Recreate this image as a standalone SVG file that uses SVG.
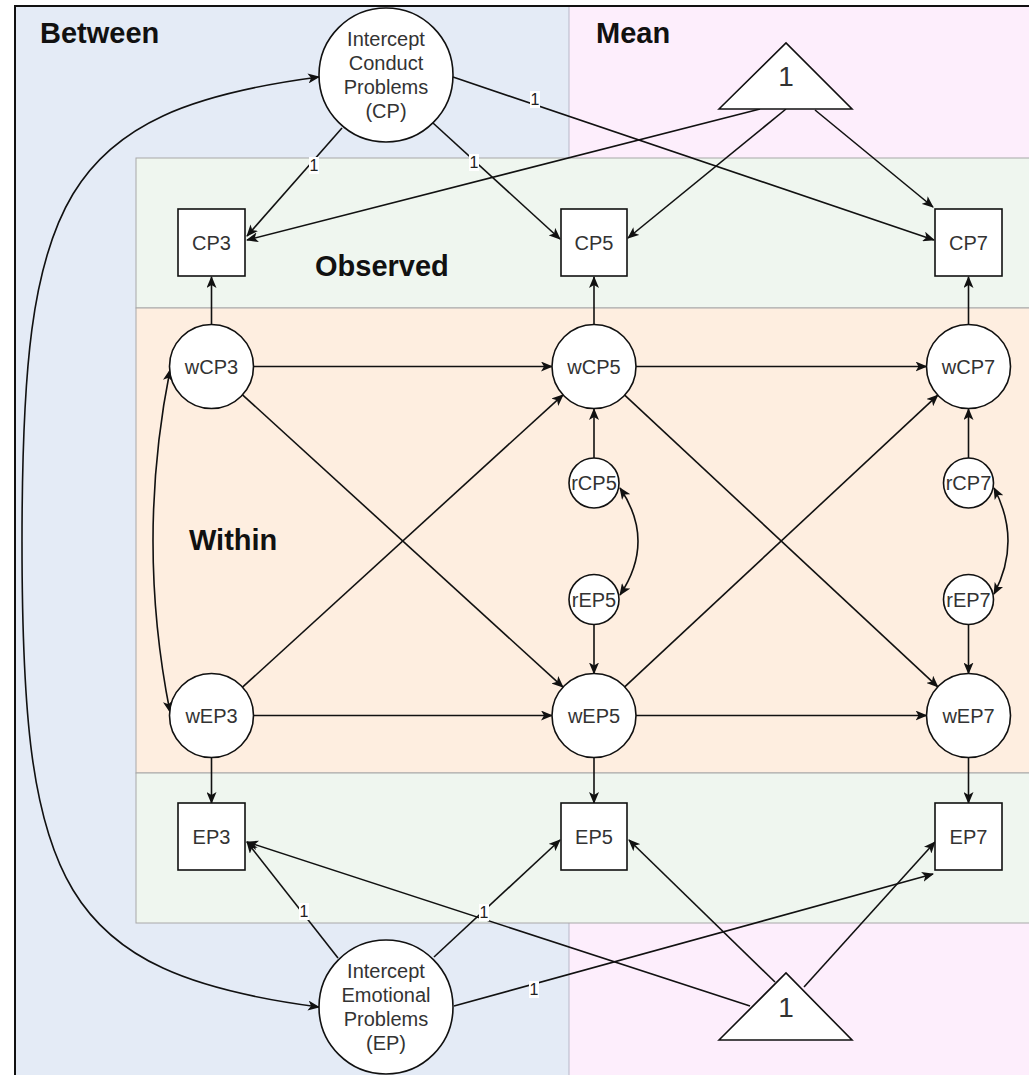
<svg xmlns="http://www.w3.org/2000/svg" width="1029" height="1075" viewBox="0 0 1029 1075">
  <style>
    .hdr { font-family: "Liberation Sans", Arial, sans-serif; font-weight: bold; font-size: 29px; fill: #111; }
    .lbl { font-family: "Liberation Sans", Arial, sans-serif; font-size: 20px; fill: #333; text-anchor: middle; }
    .one { font-family: "Liberation Sans", Arial, sans-serif; font-size: 28px; fill: #333; text-anchor: middle; }
    .elbl { font-family: "Liberation Sans", Arial, sans-serif; font-size: 16px; fill: #222; text-anchor: middle; }
    .node { fill: #fff; stroke: #111; stroke-width: 1.6; }
    .edge { fill: none; stroke: #111; stroke-width: 1.6; marker-end: url(#arrow); }
    .both { fill: none; stroke: #111; stroke-width: 1.6; marker-start: url(#arrow); marker-end: url(#arrow); }
    .lblbg { fill: #fff; }
  </style>
  <defs>
    <marker id="arrow" viewBox="0 0 12 10" markerUnits="userSpaceOnUse" markerWidth="12" markerHeight="10" refX="11" refY="5" orient="auto-start-reverse">
      <path d="M0,0 L12,5 L0,10 L3,5 Z" fill="#111"/>
    </marker>
  </defs>

  <!-- background panels -->
  <g id="panels">
    <rect x="15" y="6" width="1020" height="1080" fill="#e4ebf6"/>
    <rect x="569" y="6" width="470" height="1080" fill="#fdeefc" stroke="#b8b8c8" stroke-width="1"/>
    <rect x="136" y="158" width="900" height="150" fill="#eff6ef" stroke="#a8a8a8" stroke-width="1"/>
    <rect x="136" y="308" width="900" height="465" fill="#feeee0" stroke="#a8a8a8" stroke-width="1"/>
    <rect x="136" y="773" width="900" height="150" fill="#eff6ef" stroke="#a8a8a8" stroke-width="1"/>
    <rect x="15" y="6" width="1030" height="1090" fill="none" stroke="#111" stroke-width="2"/>
    <text class="hdr" x="40" y="43">Between</text>
    <text class="hdr" x="596" y="43">Mean</text>
    <text class="hdr" x="315" y="276">Observed</text>
    <text class="hdr" x="189" y="550">Within</text>
  </g>

  <!-- connectors -->
  <g id="connectors">
    <!-- between-level covariance -->
    <path class="both" d="M319,77 C59,111 22,200 22,542 C22,884 59,973 319,1007"/>

    <!-- intercept loadings -->
    <line class="edge" x1="342" y1="128" x2="247" y2="236"/>
    <line class="edge" x1="433" y1="123" x2="560" y2="239"/>
    <line class="edge" x1="453" y1="77" x2="934" y2="240"/>
    <line class="edge" x1="338" y1="958" x2="247" y2="842"/>
    <line class="edge" x1="434" y1="957" x2="560" y2="840"/>
    <line class="edge" x1="454" y1="1006" x2="933" y2="874"/>

    <!-- means -->
    <line class="edge" x1="760" y1="109" x2="247" y2="240"/>
    <line class="edge" x1="786" y1="109" x2="628" y2="238"/>
    <line class="edge" x1="815" y1="110" x2="933" y2="207"/>
    <line class="edge" x1="750" y1="1006" x2="247" y2="842"/>
    <line class="edge" x1="775" y1="982" x2="629" y2="840"/>
    <line class="edge" x1="804" y1="987" x2="935" y2="842"/>

    <!-- within to observed -->
    <line class="edge" x1="211.5" y1="325" x2="211.5" y2="277"/>
    <line class="edge" x1="594" y1="325" x2="594" y2="277"/>
    <line class="edge" x1="968.5" y1="325" x2="968.5" y2="277"/>
    <line class="edge" x1="211.5" y1="757.5" x2="211.5" y2="803"/>
    <line class="edge" x1="594" y1="757.5" x2="594" y2="803"/>
    <line class="edge" x1="968.5" y1="757.5" x2="968.5" y2="803"/>

    <!-- autoregressive paths -->
    <line class="edge" x1="253.5" y1="366.5" x2="552" y2="366.5"/>
    <line class="edge" x1="636" y1="366.5" x2="926.5" y2="366.5"/>
    <line class="edge" x1="253.5" y1="715.5" x2="552" y2="715.5"/>
    <line class="edge" x1="636" y1="715.5" x2="926.5" y2="715.5"/>

    <!-- cross-lagged paths -->
    <line class="edge" x1="242.5" y1="394.8" x2="563" y2="687.2"/>
    <line class="edge" x1="242.5" y1="687.2" x2="563" y2="394.8"/>
    <line class="edge" x1="624.7" y1="395.1" x2="937.8" y2="686.9"/>
    <line class="edge" x1="624.7" y1="686.9" x2="937.8" y2="395.1"/>

    <!-- residuals -->
    <line class="edge" x1="594" y1="458" x2="594" y2="409"/>
    <line class="edge" x1="594" y1="624.5" x2="594" y2="673.5"/>
    <line class="edge" x1="968.5" y1="458" x2="968.5" y2="409"/>
    <line class="edge" x1="968.5" y1="624.5" x2="968.5" y2="673.5"/>

    <!-- within covariances -->
    <path class="both" d="M170,370 Q136,541 170,712"/>
    <path class="both" d="M620,488 Q656,541 620,595"/>
    <path class="both" d="M994,488 Q1022,541 994,594"/>

    <!-- fixed loading labels -->
    <rect class="lblbg" x="309" y="157" width="10" height="17"/>
    <text class="elbl" x="314" y="171">1</text>
    <rect class="lblbg" x="469" y="154" width="10" height="17"/>
    <text class="elbl" x="474" y="168">1</text>
    <rect class="lblbg" x="530" y="91" width="10" height="17"/>
    <text class="elbl" x="535" y="105">1</text>
    <rect class="lblbg" x="299" y="903" width="10" height="17"/>
    <text class="elbl" x="304" y="917">1</text>
    <rect class="lblbg" x="479" y="904" width="10" height="17"/>
    <text class="elbl" x="484" y="918">1</text>
    <rect class="lblbg" x="529" y="981" width="10" height="17"/>
    <text class="elbl" x="534" y="995">1</text>
  </g>

  <!-- between-level intercepts -->
  <g id="intercept-cp">
    <circle class="node" cx="386" cy="75" r="67"/>
    <text class="lbl" x="386" y="46">Intercept</text>
    <text class="lbl" x="386" y="70">Conduct</text>
    <text class="lbl" x="386" y="94">Problems</text>
    <text class="lbl" x="386" y="118">(CP)</text>
  </g>
  <g id="intercept-ep">
    <circle class="node" cx="386" cy="1007" r="67"/>
    <text class="lbl" x="386" y="978">Intercept</text>
    <text class="lbl" x="386" y="1002">Emotional</text>
    <text class="lbl" x="386" y="1026">Problems</text>
    <text class="lbl" x="386" y="1050">(EP)</text>
  </g>

  <!-- mean constants -->
  <g id="mean-top">
    <polygon class="node" points="719,109 786,43 852,109"/>
    <text class="one" x="786" y="86">1</text>
  </g>
  <g id="mean-bottom">
    <polygon class="node" points="719,1040 786,973 852,1040"/>
    <text class="one" x="786" y="1017">1</text>
  </g>

  <!-- observed indicators -->
  <g id="CP3"><rect class="node" x="178" y="209" width="67" height="67"/><text class="lbl" x="211.5" y="249.5">CP3</text></g>
  <g id="CP5"><rect class="node" x="561" y="209" width="66" height="67"/><text class="lbl" x="594" y="249.5">CP5</text></g>
  <g id="CP7"><rect class="node" x="935" y="209" width="67" height="67"/><text class="lbl" x="968.5" y="249.5">CP7</text></g>
  <g id="EP3"><rect class="node" x="178" y="803" width="67" height="67"/><text class="lbl" x="211.5" y="843.5">EP3</text></g>
  <g id="EP5"><rect class="node" x="561" y="803" width="66" height="67"/><text class="lbl" x="594" y="843.5">EP5</text></g>
  <g id="EP7"><rect class="node" x="935" y="803" width="67" height="67"/><text class="lbl" x="968.5" y="843.5">EP7</text></g>

  <!-- within-person latents -->
  <g id="wCP3"><circle class="node" cx="211.5" cy="366.5" r="42"/><text class="lbl" x="211.5" y="373.5">wCP3</text></g>
  <g id="wCP5"><circle class="node" cx="594" cy="366.5" r="42"/><text class="lbl" x="594" y="373.5">wCP5</text></g>
  <g id="wCP7"><circle class="node" cx="968.5" cy="366.5" r="42"/><text class="lbl" x="968.5" y="373.5">wCP7</text></g>
  <g id="wEP3"><circle class="node" cx="211.5" cy="715.5" r="42"/><text class="lbl" x="211.5" y="722.5">wEP3</text></g>
  <g id="wEP5"><circle class="node" cx="594" cy="715.5" r="42"/><text class="lbl" x="594" y="722.5">wEP5</text></g>
  <g id="wEP7"><circle class="node" cx="968.5" cy="715.5" r="42"/><text class="lbl" x="968.5" y="722.5">wEP7</text></g>

  <!-- residual terms -->
  <g id="rCP5"><circle class="node" cx="594" cy="483" r="25"/><text class="lbl" x="594" y="490">rCP5</text></g>
  <g id="rEP5"><circle class="node" cx="594" cy="599.5" r="25"/><text class="lbl" x="594" y="606.5">rEP5</text></g>
  <g id="rCP7"><circle class="node" cx="968.5" cy="483" r="25"/><text class="lbl" x="968.5" y="490">rCP7</text></g>
  <g id="rEP7"><circle class="node" cx="968.5" cy="599.5" r="25"/><text class="lbl" x="968.5" y="606.5">rEP7</text></g>
</svg>
